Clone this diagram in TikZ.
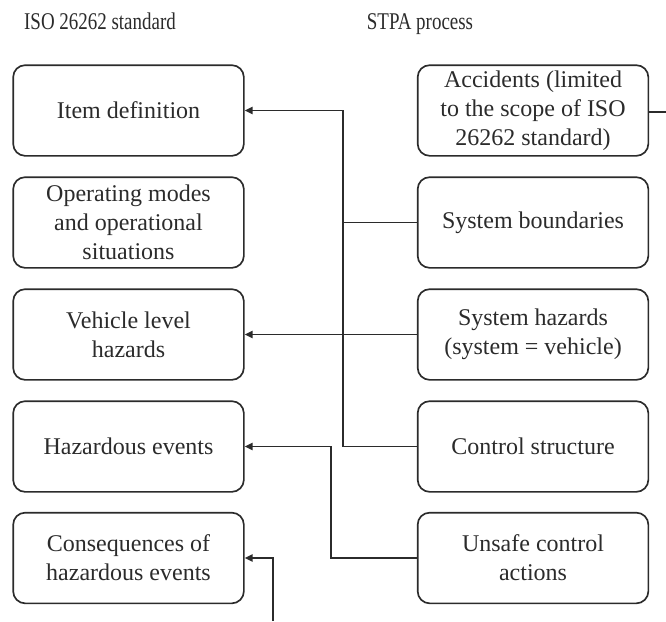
\documentclass[tikz,border=0pt]{standalone}
\usepackage{fontspec}
\setmainfont{Liberation Serif}
\usetikzlibrary{arrows.meta}
\definecolor{ink}{HTML}{2B2B2B}
% condensed heading text
\newcommand{\narrowhead}[1]{\scalebox{0.79}[1]{#1}}
\begin{document}
\begin{tikzpicture}[x=0.75pt,y=-0.75pt,
  stagebox/.style={draw=ink, line width=1.25pt, rounded corners=9pt,
    minimum width=173pt, minimum height=68pt, align=center, inner sep=0pt,
    font=\fontsize{18}{21.6}\selectfont, text=ink},
  heading/.style={font=\fontsize{18}{21.6}\selectfont, text=ink, anchor=base, inner sep=0pt},
  link/.style={draw=ink, line width=1.35pt},
  feed/.style={link, -{Triangle[length=6pt,width=5.5pt]}}]
\useasboundingbox (0,0) rectangle (666,621);

% column headings
\node[heading] (hiso)  at (100,29.5) {\narrowhead{ISO 26262 standard}};
\node[heading] (hstpa) at (420,29.5) {\narrowhead{STPA process}};

% ISO 26262 column
\node[stagebox] (item) at (128.5,110.5) {Item definition};
\node[stagebox] (modes) at (128.5,222.5) {Operating modes\\and operational\\situations};
\node[stagebox] (vlh) at (128.5,334.5) {Vehicle level\\hazards};
\node[stagebox] (hev) at (128.5,446.5) {Hazardous events};
\node[stagebox] (cons) at (128.5,558) {Consequences of\\hazardous events};

% STPA column
\node[stagebox] (acc) at (533,110.5) {Accidents (limited\\to the scope of ISO\\26262 standard)};
\node[stagebox] (sysb) at (533,222.5) {System boundaries};
\node[stagebox] (sysh) at (533,334.5) {System hazards\\(system = vehicle)};
\node[stagebox] (ctrl) at (533,446.5) {Control structure};
\node[stagebox] (uca) at (533,558) {Unsafe control\\actions};

% bus lines and free ends
\coordinate (busA) at (343,0);
\coordinate (busB) at (331,0);
\coordinate (accout) at (666,112);
\coordinate (consin) at (273,621);

% connectors
\draw[feed] (ctrl.west) -- (ctrl.west -| busA) |- (item.east);
\draw[link] (sysb.west) -- (sysb.west -| busA);
\draw[feed] (sysh.west) -- (vlh.east);
\draw[feed] (uca.west) -- (uca.west -| busB) |- (hev.east);
\draw[feed] (consin) |- (cons.east);
\draw[link] (acc.east |- accout) -- (accout);
\end{tikzpicture}
\end{document}
